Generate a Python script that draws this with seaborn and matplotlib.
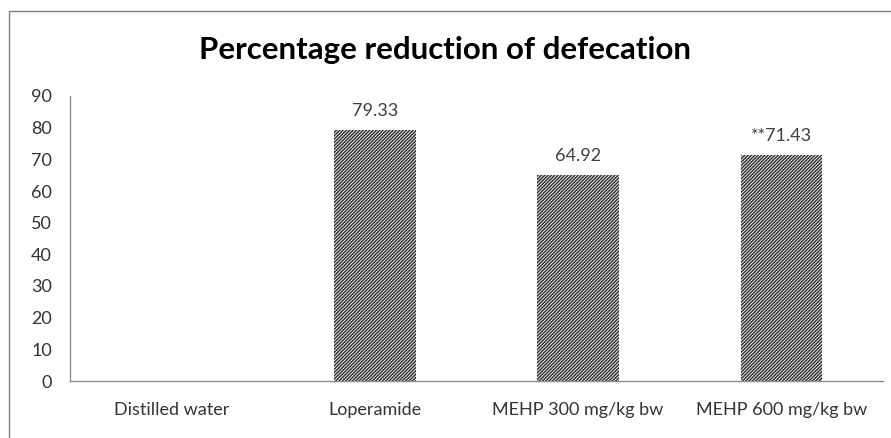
import matplotlib
matplotlib.use("Agg")
import matplotlib.pyplot as plt
import pandas as pd
import seaborn as sns
from matplotlib.patches import Rectangle

groups = ["Distilled water", "Loperamide", "MEHP 300 mg/kg bw", "MEHP 600 mg/kg bw"]
reduction = [0.0, 79.33, 64.92, 71.43]
bar_labels = ["", "79.33", "64.92", "**71.43"]
y_ticks = list(range(0, 91, 10))

df = pd.DataFrame({"group": groups, "reduction": reduction})

sns.set_style("white")
plt.rcParams["font.family"] = ["Lato", "DejaVu Sans"]
plt.rcParams["hatch.linewidth"] = 1.1

fig = plt.figure(figsize=(8.91, 4.38), dpi=100)
ax = fig.add_axes([70 / 891, 1 - 381 / 438, (883 - 70) / 891, (381 - 96) / 438])

sns.barplot(data=df, x="group", y="reduction", ax=ax, width=0.4,
            color="white", saturation=1)
for p in ax.patches:
    p.set_hatch("/" * 10)
    p.set_edgecolor("#333333")
    p.set_linewidth(0)

for i, (v, lab) in enumerate(zip(reduction, bar_labels)):
    if lab:
        ax.annotate(lab, (i, v), xytext=(0, 8), textcoords="offset points",
                    ha="center", va="bottom", fontsize=13, color="#404040")

ax.set_ylim(0, 90)
ax.set_xlim(-0.5, len(groups) - 0.5)
ax.set_yticks(y_ticks)
ax.set_xlabel("")
ax.set_ylabel("")
ax.tick_params(axis="x", which="major", length=0, pad=15, labelsize=13, labelcolor="#333333")
ax.set_xticks([i + 0.5 for i in range(-1, len(groups))], minor=True)
ax.tick_params(axis="x", which="minor", length=5, color="#8c8c8c", direction="out")
ax.tick_params(axis="y", length=5, color="#8c8c8c", direction="out", labelsize=13,
               labelcolor="#333333", pad=8)

for side in ["top", "right"]:
    ax.spines[side].set_visible(False)
for side in ["left", "bottom"]:
    ax.spines[side].set_color("#8c8c8c")
    ax.spines[side].set_linewidth(1.0)

fig.text(445 / 891, 1 - 50 / 438, "Percentage reduction of defecation",
         ha="center", va="center", fontsize=22.5, fontweight="bold", color="black")

fig.patches.append(Rectangle((9 / 891, -0.05), 1.0, 1 - 11 / 438 + 0.05,
                             transform=fig.transFigure, fill=False,
                             edgecolor="#7f7f7f", linewidth=1.0))

fig.savefig("out.png", dpi=100, facecolor="white")
